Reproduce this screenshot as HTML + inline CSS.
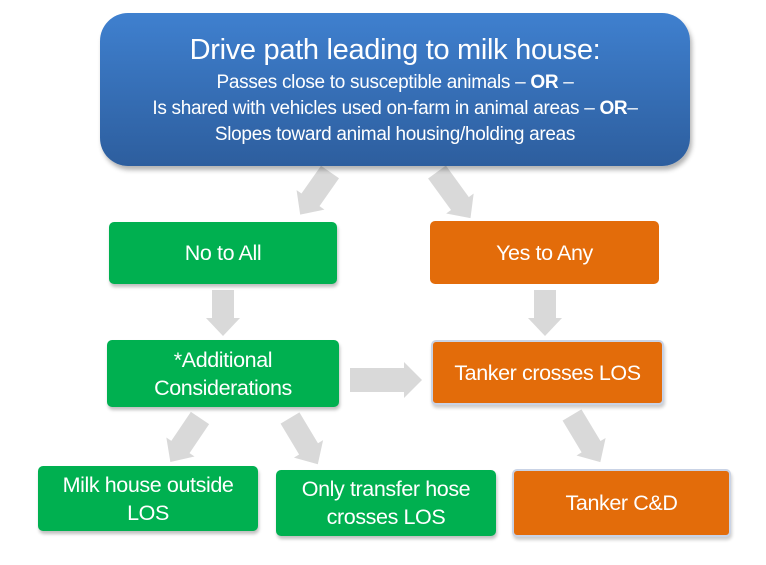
<!DOCTYPE html>
<html><head><style>
html,body{margin:0;padding:0;background:#fff;}
body{width:766px;height:565px;position:relative;overflow:hidden;font-family:"Liberation Sans",sans-serif;}
.b{position:absolute;color:#fff;display:flex;align-items:center;justify-content:center;text-align:center;box-sizing:border-box;font-size:21.5px;line-height:28px;border-radius:5px;letter-spacing:-0.4px;}
.g{background:#00b050;box-shadow:1px 3px 3px rgba(0,0,0,.25);}
.o{background:#e36c0a;}
.ob{border:2px solid #c9d3e6;box-shadow:1px 3px 3px rgba(0,0,0,.2);}
#top{position:absolute;left:100px;top:13px;width:590px;height:153px;border-radius:28px;background:linear-gradient(#3f80cf,#2d5e9e);box-shadow:2px 4px 5px rgba(0,0,0,.3);color:#fff;text-align:center;letter-spacing:-0.3px;}
</style></head><body>
<svg width="766" height="565" style="position:absolute;left:0;top:0">
<g fill="#d9d9d9">
<polygon transform="translate(330,172) rotate(35)" points="-11,0 11,0 11,34 17,34 0,52 -17,34 -11,34"/>
<polygon transform="translate(437,172) rotate(-36)" points="-11,0 11,0 11,39 17,39 0,57 -17,39 -11,39"/>
<polygon transform="translate(223,290) rotate(0)" points="-11,0 11,0 11,28 17,28 0,46 -17,28 -11,28"/>
<polygon transform="translate(545,290) rotate(0)" points="-11,0 11,0 11,28 17,28 0,46 -17,28 -11,28"/>
<polygon transform="translate(350,380) rotate(-90)" points="-12,0 12,0 12,54 18,54 0,72 -18,54 -12,54"/>
<polygon transform="translate(200,418) rotate(34)" points="-11,0 11,0 11,35 17,35 0,53 -17,35 -11,35"/>
<polygon transform="translate(290,418) rotate(-31)" points="-11,0 11,0 11,36 17,36 0,54 -17,36 -11,36"/>
<polygon transform="translate(572,415) rotate(-31)" points="-11,0 11,0 11,37 17,37 0,55 -17,37 -11,37"/>
</g></svg>
<div id="top">
<div style="font-size:29px;margin-top:20px;line-height:34px;">Drive path leading to milk house:</div>
<div style="font-size:19px;line-height:26px;margin-top:3px;">Passes close to susceptible animals – <b>OR</b> –<br>Is shared with vehicles used on-farm in animal areas – <b>OR</b>–<br>Slopes toward animal housing/holding areas</div>
</div>
<div class="b g" style="left:109px;top:222px;width:228px;height:62px;">No to All</div>
<div class="b o" style="left:430px;top:221px;width:229px;height:63px;">Yes to Any</div>
<div class="b g" style="left:107px;top:340px;width:232px;height:67px;">*Additional<br>Considerations</div>
<div class="b o ob" style="left:431px;top:340px;width:233px;height:65px;">Tanker crosses LOS</div>
<div class="b g" style="left:38px;top:466px;width:220px;height:65px;">Milk house outside<br>LOS</div>
<div class="b g" style="left:276px;top:470px;width:220px;height:66px;">Only transfer hose<br>crosses LOS</div>
<div class="b o ob" style="left:512px;top:469px;width:219px;height:68px;">Tanker C&amp;D</div>
</body></html>
